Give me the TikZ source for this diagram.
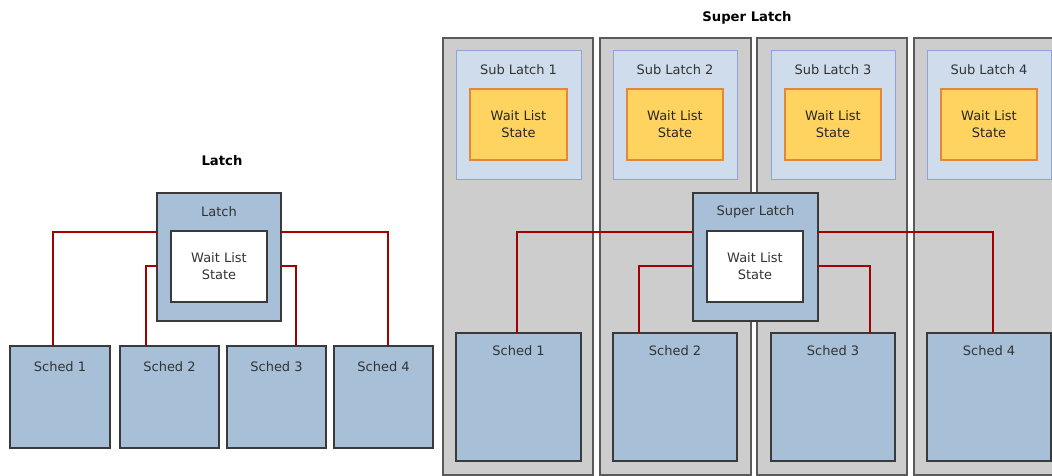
\documentclass[tikz,border=0pt]{standalone}
\usepackage{fontspec}
\setmainfont{DejaVu Sans}
\definecolor{schedc}{HTML}{A7BFD7}
\definecolor{bordc}{HTML}{3A3A3A}
\definecolor{colc}{HTML}{CDCDCD}
\definecolor{colb}{HTML}{5A5A5A}
\definecolor{subc}{HTML}{CEDCEB}
\definecolor{subb}{HTML}{8FA3D8}
\definecolor{yelc}{HTML}{FFD35F}
\definecolor{yelb}{HTML}{E5873A}
\definecolor{redc}{HTML}{A30000}
\definecolor{txtc}{HTML}{333333}
\begin{document}
\begin{tikzpicture}[x=1pt,y=-1pt,
  base/.style={rectangle, anchor=north west, inner sep=0pt, outer sep=0pt},
  schedbox/.style={base, draw=bordc, fill=schedc, line width=1.2pt},
  whitebox/.style={base, draw=bordc, fill=white, line width=1.5pt},
  colbox/.style={base, draw=colb, fill=colc, line width=1.2pt},
  subbox/.style={base, draw=subb, fill=subc, line width=1pt},
  yelbox/.style={base, draw=yelb, fill=yelc, line width=1.2pt},
  lbl/.style={font=\fontsize{13}{17}\selectfont, text=txtc, inner sep=0pt, align=center},
  ttl/.style={font=\fontsize{13.2}{17}\selectfont\bfseries, text=black, inner sep=0pt},
  redline/.style={draw=redc, line width=2.5pt}
]
\useasboundingbox (0,0) rectangle (1052,476);

% ---------- Left: Latch ----------
\node[ttl] (lattitle) at (222,161) {Latch};
\node[schedbox, minimum width=124pt, minimum height=128pt] (lat) at (157,193) {};
\node[whitebox, minimum width=96pt, minimum height=71pt] (latw) at (171,231) {};
\node[lbl] (latt) at ([yshift=-19pt]lat.north) {Latch};
\node[lbl] (latwt) at (latw.center) {Wait List\\State};

\node[schedbox, minimum width=100pt, minimum height=102pt] (ls1) at (10,346) {};
\node[schedbox, minimum width=99pt, minimum height=102pt] (ls2) at (120,346) {};
\node[schedbox, minimum width=99pt, minimum height=102pt] (ls3) at (227,346) {};
\node[schedbox, minimum width=99pt, minimum height=102pt] (ls4) at (334,346) {};
\foreach \i in {1,...,4}{
  \node[lbl] (ls\i t) at ([yshift=-21pt]ls\i.north) {Sched \i};
}

\draw[redline] ([yshift=-39pt]lat.north west) -| ([xshift=43pt]ls1.north west);
\draw[redline] ([yshift=-73pt]lat.north west) -| ([xshift=26pt]ls2.north west);
\draw[redline] ([yshift=-73pt]lat.north east) -| ([xshift=69pt]ls3.north west);
\draw[redline] ([yshift=-39pt]lat.north east) -| ([xshift=54pt]ls4.north west);

% ---------- Right: Super Latch ----------
\node[ttl] (sltitle) at (747,18) {Super Latch};
\node[colbox, minimum width=150pt, minimum height=437pt] (c1) at (443,38) {};
\node[colbox, minimum width=151pt, minimum height=437pt] (c2) at (600,38) {};
\node[colbox, minimum width=150pt, minimum height=437pt] (c3) at (757,38) {};
\node[colbox, minimum width=150pt, minimum height=437pt] (c4) at (914,38) {};

\node[subbox, minimum width=125pt, minimum height=128pt] (sub1) at (456,51) {};
\node[subbox, minimum width=124pt, minimum height=128pt] (sub2) at (613,51) {};
\node[subbox, minimum width=124pt, minimum height=128pt] (sub3) at (771,51) {};
\node[subbox, minimum width=124pt, minimum height=128pt] (sub4) at (927,51) {};

\node[yelbox, minimum width=97pt, minimum height=71pt] (w1) at (470,89) {};
\node[yelbox, minimum width=96pt, minimum height=71pt] (w2) at (627,89) {};
\node[yelbox, minimum width=96pt, minimum height=71pt] (w3) at (785,89) {};
\node[yelbox, minimum width=96pt, minimum height=71pt] (w4) at (941,89) {};

\foreach \i in {1,...,4}{
  \node[lbl] (sub\i t) at ([yshift=-19pt]sub\i.north) {Sub Latch \i};
  \node[lbl, text=black!85] (w\i t) at (w\i.center) {Wait List\\State};
}

\node[schedbox, minimum width=125pt, minimum height=128pt] (rs1) at (456,333) {};
\node[schedbox, minimum width=124pt, minimum height=128pt] (rs2) at (613,333) {};
\node[schedbox, minimum width=124pt, minimum height=128pt] (rs3) at (771,333) {};
\node[schedbox, minimum width=124pt, minimum height=128pt] (rs4) at (927,333) {};
\foreach \i in {1,...,4}{
  \node[lbl] (rs\i t) at ([yshift=-18pt]rs\i.north) {Sched \i};
}

\node[schedbox, minimum width=125pt, minimum height=128pt] (sl) at (693,193) {};
\node[whitebox, minimum width=96pt, minimum height=71pt] (slw) at (707,231) {};
\node[lbl] (slt) at ([yshift=-19pt]sl.north) {Super Latch};
\node[lbl] (slwt) at (slw.center) {Wait List\\State};

\draw[redline] ([yshift=-39pt]sl.north west) -| ([xshift=61pt]rs1.north west);
\draw[redline] ([yshift=-73pt]sl.north west) -| ([xshift=26pt]rs2.north west);
\draw[redline] ([yshift=-73pt]sl.north east) -| ([xshift=99pt]rs3.north west);
\draw[redline] ([yshift=-39pt]sl.north east) -| ([xshift=66pt]rs4.north west);
\end{tikzpicture}
\end{document}
